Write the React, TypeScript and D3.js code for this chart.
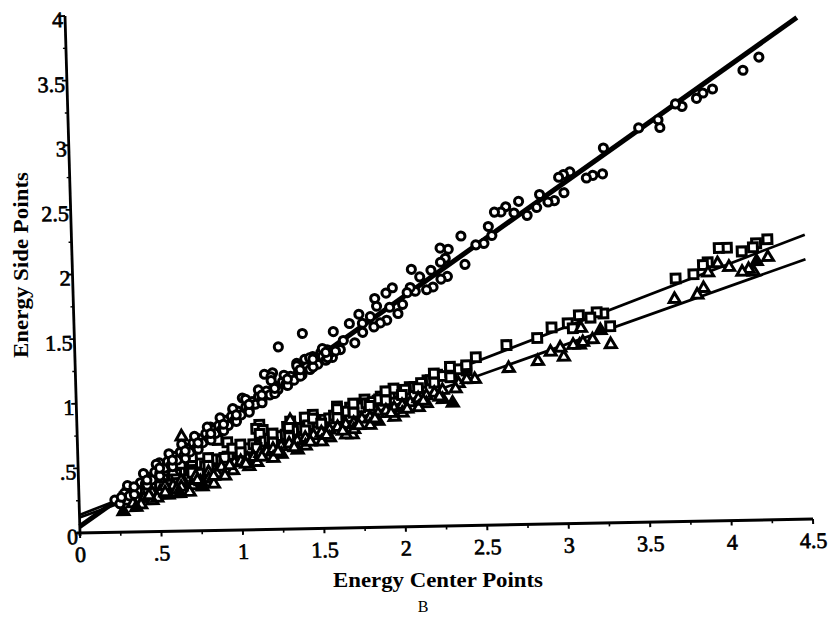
import React from 'react';
import * as d3 from 'd3';

// ---- tick values & labels ----
const xTickValues = [0, 0.5, 1, 1.5, 2, 2.5, 3, 3.5, 4, 4.5];
const xTickLabels = ['0', '.5', '1', '1.5', '2', '2.5', '3', '3.5', '4', '4.5'];
const yTickValues = [0, 0.5, 1, 1.5, 2, 2.5, 3, 3.5, 4];
const yTickLabels = ['0', '.5', '1', '1.5', '2', '2.5', '3', '3.5', '4'];
const xMinorTicks = [0.25, 0.75, 1.25, 1.75, 2.25, 2.75, 3.25, 3.75, 4.25];
const yMinorTicks = [0.25, 0.75, 1.25, 1.75, 2.25, 2.75, 3.25, 3.75];

// ---- series: circles (upper fit) ----
const circlePoints: [number, number][] = [
  [4.25, 3.58], [4.15, 3.48], [3.96, 3.34], [3.9, 3.31], [3.86, 3.27], [3.77, 3.21], [3.73, 3.23],
  [3.63, 3.05], [3.5, 3.05], [3.62, 3.11], [3.28, 2.9], [3.27, 2.7], [3.21, 2.69], [3.17, 2.67],
  [3.07, 2.72], [3.03, 2.7], [3.03, 2.56], [3.0, 2.68], [2.97, 2.5], [2.88, 2.55], [2.93, 2.49],
  [2.86, 2.45], [2.8, 2.39], [2.75, 2.5], [2.72, 2.41], [2.67, 2.46], [2.64, 2.42], [2.6, 2.42],
  [2.56, 2.31], [2.39, 2.24], [2.58, 2.24], [2.53, 2.18], [2.48, 2.17], [2.41, 2.02], [2.31, 2.14],
  [2.26, 2.15], [2.29, 2.07], [2.26, 2.04], [2.3, 1.93], [2.26, 1.91], [2.2, 1.98], [2.13, 1.93],
  [2.08, 1.99], [2.1, 1.82], [2.07, 1.85], [2.05, 1.81], [2.21, 1.85], [2.17, 1.83], [1.96, 1.85],
  [1.92, 1.81], [1.85, 1.77], [1.86, 1.71], [1.94, 1.7], [2.02, 1.72], [1.99, 1.65], [1.82, 1.63],
  [1.75, 1.65], [1.77, 1.58], [1.69, 1.58], [1.59, 1.52], [1.92, 1.6], [1.88, 1.58], [1.84, 1.55],
  [1.77, 1.51], [1.72, 1.43], [1.65, 1.45], [1.63, 1.38], [1.58, 1.32], [1.4, 1.51], [1.25, 1.41],
  [1.55, 1.38], [1.51, 1.36], [1.46, 1.33], [1.41, 1.31], [1.36, 1.28], [1.21, 1.21], [1.16, 1.2],
  [1.2, 1.18], [1.02, 1.02], [0.96, 0.93], [0.82, 0.8],
  [0.22, 0.25], [0.25, 0.22], [0.28, 0.3], [0.31, 0.28], [0.33, 0.33], [0.36, 0.32], [0.38, 0.38],
  [0.41, 0.37], [0.43, 0.42], [0.45, 0.4], [0.47, 0.46], [0.5, 0.45], [0.5, 0.53], [0.53, 0.49],
  [0.55, 0.54], [0.57, 0.51], [0.59, 0.58], [0.61, 0.55], [0.63, 0.61], [0.65, 0.58], [0.67, 0.64],
  [0.69, 0.61], [0.71, 0.68], [0.73, 0.64], [0.75, 0.71], [0.77, 0.68], [0.79, 0.75], [0.81, 0.71],
  [0.83, 0.78], [0.85, 0.75], [0.87, 0.81], [0.89, 0.78], [0.91, 0.85], [0.93, 0.81], [0.95, 0.88],
  [0.97, 0.85], [0.99, 0.92], [1.01, 0.89], [1.04, 0.95], [1.06, 0.93], [1.08, 0.99], [1.1, 0.97],
  [1.12, 1.03], [1.14, 1.0], [1.17, 1.07], [1.19, 1.04], [1.22, 1.11], [1.24, 1.08], [1.27, 1.14],
  [1.29, 1.12], [1.32, 1.18], [1.34, 1.15], [1.37, 1.22], [1.39, 1.19], [1.42, 1.25], [1.44, 1.23],
  [1.47, 1.29], [1.49, 1.27], [1.52, 1.33], [1.54, 1.3], [1.57, 1.36], [1.6, 1.37],
  [0.3, 0.36], [0.4, 0.45], [0.48, 0.52], [0.56, 0.6], [0.64, 0.67], [0.72, 0.73], [0.8, 0.8],
  [0.88, 0.87], [0.96, 0.94], [1.04, 1.01], [1.12, 1.08], [1.2, 1.15], [1.28, 1.19], [1.36, 1.26],
  [1.44, 1.32], [1.52, 1.39],
  [0.34, 0.29], [0.42, 0.36], [0.5, 0.43], [0.58, 0.5], [0.66, 0.56], [0.74, 0.63], [0.82, 0.7],
  [0.9, 0.77], [0.98, 0.84], [1.06, 0.91], [1.14, 0.98], [1.22, 1.05], [1.3, 1.11], [1.38, 1.18],
  [1.46, 1.25], [1.55, 1.32],
  [0.26, 0.27], [0.34, 0.35], [0.42, 0.4], [0.5, 0.49], [0.58, 0.55], [0.66, 0.62], [0.74, 0.68],
  [0.82, 0.75], [0.9, 0.82], [0.98, 0.89], [1.06, 0.97], [1.14, 1.04], [1.22, 1.09], [1.3, 1.16],
  [1.38, 1.23], [1.46, 1.31], [1.54, 1.36],
];

// ---- series: squares (middle fit) ----
const squarePoints: [number, number][] = [
  [4.27, 2.17], [4.2, 2.14], [4.11, 2.08], [4.18, 2.11], [4.02, 2.11], [3.97, 2.11], [3.9, 2.0],
  [3.87, 1.98], [3.81, 1.91], [3.7, 1.88], [3.29, 1.52], [3.25, 1.62], [3.21, 1.63], [3.17, 1.59],
  [3.1, 1.61], [3.03, 1.55], [3.06, 1.51], [2.93, 1.52], [2.84, 1.44], [2.65, 1.39], [2.46, 1.3],
  [2.4, 1.2], [2.31, 1.18], [2.22, 1.17], [2.16, 1.13], [2.05, 1.08], [1.87, 1.01], [1.77, 0.99],
  [1.68, 0.93], [1.6, 0.94], [1.45, 0.88], [1.31, 0.83], [1.12, 0.81], [1.4, 0.86], [1.29, 0.79],
  [1.1, 0.78], [1.14, 0.77], [1.12, 0.74], [1.85, 0.98], [0.92, 0.68], [0.86, 0.7],
  [0.28, 0.27], [0.33, 0.28], [0.38, 0.33], [0.42, 0.31], [0.47, 0.36], [0.5, 0.38], [0.55, 0.4],
  [0.58, 0.43], [0.62, 0.42], [0.65, 0.46], [0.68, 0.47], [0.72, 0.48], [0.75, 0.52], [0.78, 0.5],
  [0.82, 0.53], [0.85, 0.55], [0.88, 0.54], [0.92, 0.57], [0.95, 0.58], [0.98, 0.6], [1.02, 0.62],
  [1.05, 0.63], [1.08, 0.66], [1.12, 0.65], [1.15, 0.68], [1.18, 0.7], [1.22, 0.69], [1.25, 0.72],
  [1.28, 0.73], [1.32, 0.75], [1.35, 0.76], [1.38, 0.78], [1.42, 0.8], [1.48, 0.82], [1.52, 0.84],
  [1.55, 0.85], [1.58, 0.87], [1.62, 0.88], [1.66, 0.9], [1.7, 0.92], [1.74, 0.93], [1.78, 0.96],
  [1.82, 0.97], [1.86, 0.99], [1.9, 1.0], [1.94, 1.03], [1.98, 1.04], [2.02, 1.06], [2.08, 1.08],
  [2.12, 1.11], [2.18, 1.13], [2.25, 1.16], [2.3, 1.19], [2.35, 1.21], [2.4, 1.22],
  [0.4, 0.37], [0.52, 0.43], [0.6, 0.49], [0.7, 0.52], [0.8, 0.56], [0.95, 0.63], [1.2, 0.74],
  [1.45, 0.85], [1.7, 0.96], [1.95, 1.07], [2.2, 1.18], [0.69, 0.47],
  [0.36, 0.24], [0.44, 0.27], [0.52, 0.33], [0.6, 0.37], [0.66, 0.4], [0.74, 0.44], [0.9, 0.5],
  [1.0, 0.55], [1.0, 0.66], [1.3, 0.79], [1.6, 0.92], [1.9, 1.05], [2.3, 1.23],
  [0.55, 0.47], [0.63, 0.52], [0.7, 0.57],
  [0.3, 0.3], [0.4, 0.3], [0.5, 0.35], [0.6, 0.44], [0.7, 0.45], [0.8, 0.5], [0.9, 0.56],
  [1.0, 0.6], [1.1, 0.63], [1.2, 0.67], [1.3, 0.71], [1.4, 0.76], [1.5, 0.81], [1.6, 0.85],
  [1.7, 0.89], [1.8, 0.94], [1.9, 0.98], [2.0, 1.02], [2.1, 1.07], [2.2, 1.11], [2.3, 1.15],
  [2.4, 1.24],
];

// ---- series: triangles (lower fit) ----
const trianglePoints: [number, number][] = [
  [4.27, 2.03], [4.18, 1.92], [4.15, 1.94], [4.11, 1.92], [4.03, 1.96], [3.96, 1.99], [3.9, 1.92],
  [3.87, 1.8], [3.83, 1.75], [3.69, 1.72], [3.29, 1.38], [3.18, 1.42], [3.1, 1.38], [3.06, 1.38],
  [3.0, 1.29], [3.12, 1.4], [2.98, 1.36], [2.92, 1.33], [2.84, 1.26], [2.66, 1.21], [2.45, 1.13],
  [3.11, 1.51], [1.31, 0.84], [1.69, 0.72], [0.64, 0.73],
  [0.3, 0.24], [0.4, 0.26], [0.45, 0.3], [0.5, 0.31], [0.55, 0.28], [0.58, 0.35], [0.65, 0.37],
  [0.7, 0.35], [0.72, 0.42], [0.8, 0.45], [0.85, 0.44], [0.88, 0.49], [0.92, 0.47], [0.96, 0.52],
  [1.0, 0.53], [1.04, 0.55], [1.08, 0.56], [1.12, 0.59], [1.16, 0.6], [1.2, 0.62], [1.25, 0.64],
  [1.3, 0.66], [1.35, 0.68], [1.4, 0.7], [1.45, 0.72], [1.5, 0.74], [1.55, 0.76], [1.6, 0.78],
  [1.65, 0.8], [1.7, 0.81], [1.75, 0.84], [1.8, 0.85], [1.85, 0.88], [1.9, 0.9], [1.95, 0.92],
  [2.0, 0.94], [2.05, 0.96], [2.1, 0.99], [2.15, 1.01], [2.2, 1.03], [2.25, 1.05], [2.35, 1.1],
  [2.4, 1.13],
  [0.45, 0.24], [0.6, 0.32], [0.8, 0.4], [0.95, 0.46], [1.1, 0.52], [1.25, 0.58], [1.4, 0.64],
  [1.55, 0.7], [1.7, 0.76], [1.85, 0.82], [2.0, 0.88], [2.15, 0.95],
  [0.38, 0.21], [0.48, 0.26], [0.53, 0.35], [0.63, 0.39], [0.68, 0.3], [0.75, 0.38], [0.83, 0.36],
  [0.9, 0.42], [1.05, 0.49], [1.2, 0.55], [1.35, 0.61], [1.5, 0.67], [1.65, 0.72], [1.8, 0.79],
  [1.95, 0.85], [2.1, 0.92], [2.25, 0.98], [0.5, 0.41], [0.58, 0.46],
  [0.33, 0.22], [0.43, 0.28], [0.53, 0.3], [0.63, 0.34], [0.73, 0.39], [0.83, 0.42], [0.93, 0.5],
  [1.03, 0.51], [1.13, 0.56], [1.23, 0.6], [1.33, 0.63], [1.43, 0.67], [1.53, 0.72], [1.63, 0.75],
  [1.73, 0.79], [1.83, 0.84], [1.93, 0.88], [2.03, 0.91], [2.13, 0.97], [2.23, 1.0], [2.33, 1.06],
];
const triangleFilledPoints: [number, number][] = [
  [0.27, 0.16], [0.35, 0.19], [0.62, 0.29], [0.76, 0.34], [3.23, 1.49], [4.2, 2.0], [2.31, 0.95],
];

// ---- fitted lines (endpoints in data units) ----
const fitCircles: [number, number][] = [[0, 0.05], [4.49, 3.88]];
const fitSquares: [number, number][] = [[0, 0.14], [4.5, 2.2]];
const fitTriangles: [number, number][] = [[0, 0.12], [4.5, 2.01]];

const FONT = '"Liberation Serif", "Times New Roman", serif';

export default function App() {
  const x = d3.scaleLinear().domain([0, 4.5]).range([0, 733]);
  const y = d3.scaleLinear().domain([0, 4]).range([0, -517]);
  const line = d3
    .line<[number, number]>()
    .x((d) => x(d[0]))
    .y((d) => y(d[1]));
  const circlePath = d3.symbol().type(d3.symbolCircle).size(52)()!;
  const squarePath = d3.symbol().type(d3.symbolSquare).size(78)()!;
  const triPath = d3.symbol().type(d3.symbolTriangle).size(52)()!;
  const sw = 3;

  return (
    <svg
      width={831}
      height={627}
      style={{ position: 'absolute', left: 0, top: 0, background: '#fff' }}
    >
      <rect width={831} height={627} fill="#fff" />
      <g transform="matrix(1,-0.0191,0.029,1,80,533)" fontFamily={FONT}>
        {/* axes */}
        <line x1={-3} x2={x(4.5)} y1={0} y2={0} stroke="#000" strokeWidth={3} />
        <line x1={0} x2={0} y1={3} y2={y(4)} stroke="#000" strokeWidth={2.8} />
        {xTickValues.map((v) => (
          <line key={'xt' + v} x1={x(v)} x2={x(v)} y1={0} y2={5} stroke="#000" strokeWidth={2} />
        ))}
        {xMinorTicks.map((v) => (
          <line key={'xm' + v} x1={x(v)} x2={x(v)} y1={0} y2={3.5} stroke="#000" strokeWidth={1.6} />
        ))}
        {yTickValues.map((v) => (
          <line key={'yt' + v} x1={-5} x2={0} y1={y(v)} y2={y(v)} stroke="#000" strokeWidth={1.8} />
        ))}
        {yMinorTicks.map((v) => (
          <line key={'ym' + v} x1={-3} x2={0} y1={y(v)} y2={y(v)} stroke="#000" strokeWidth={1.4} />
        ))}
        {xTickValues.map((v, i) => (
          <text
            key={'xl' + v}
            x={x(v)}
            y={29}
            textAnchor="middle"
            fontSize={22}
            fill="#000"
            stroke="#000"
            strokeWidth={0.7}
          >
            {xTickLabels[i]}
          </text>
        ))}
        {yTickValues.map((v, i) => (
          <text
            key={'yl' + v}
            x={-2}
            y={y(v) + 11}
            textAnchor="end"
            fontSize={22}
            fill="#000"
            stroke="#000"
            strokeWidth={0.7}
          >
            {yTickLabels[i]}
          </text>
        ))}

        {/* fitted lines */}
        <path d={line(fitCircles)!} stroke="#000" strokeWidth={5} fill="none" />
        <path d={line(fitSquares)!} stroke="#000" strokeWidth={2.7} fill="none" />
        <path d={line(fitTriangles)!} stroke="#000" strokeWidth={2.7} fill="none" />

        {/* markers */}
        {squarePoints.map((d, i) => (
          <path
            key={'s' + i}
            d={squarePath}
            transform={`translate(${x(d[0])},${y(d[1])})`}
            fill="#fff"
            stroke="#000"
            strokeWidth={sw}
          />
        ))}
        {trianglePoints.map((d, i) => (
          <path
            key={'t' + i}
            d={triPath}
            transform={`translate(${x(d[0])},${y(d[1])})`}
            fill="#fff"
            stroke="#000"
            strokeWidth={sw}
          />
        ))}
        {triangleFilledPoints.map((d, i) => (
          <path
            key={'tf' + i}
            d={triPath}
            transform={`translate(${x(d[0])},${y(d[1])})`}
            fill="#000"
            stroke="#000"
            strokeWidth={sw}
          />
        ))}
        {circlePoints.map((d, i) => (
          <path
            key={'c' + i}
            d={circlePath}
            transform={`translate(${x(d[0])},${y(d[1])})`}
            fill="#fff"
            stroke="#000"
            strokeWidth={sw}
          />
        ))}
      </g>

      {/* axis titles */}
      <text
        x={438}
        y={587}
        textAnchor="middle"
        fontFamily={FONT}
        fontWeight="bold"
        fontSize={22}
        textLength={210}
        lengthAdjust="spacingAndGlyphs"
        fill="#000"
      >
        Energy Center Points
      </text>
      <text
        transform="translate(28,265) rotate(-90)"
        textAnchor="middle"
        fontFamily={FONT}
        fontWeight="bold"
        fontSize={20}
        textLength={186}
        lengthAdjust="spacingAndGlyphs"
        fill="#000"
      >
        Energy Side Points
      </text>
      <text x={423} y={612} textAnchor="middle" fontFamily={FONT} fontSize={16} fill="#000">
        B
      </text>
    </svg>
  );
}
